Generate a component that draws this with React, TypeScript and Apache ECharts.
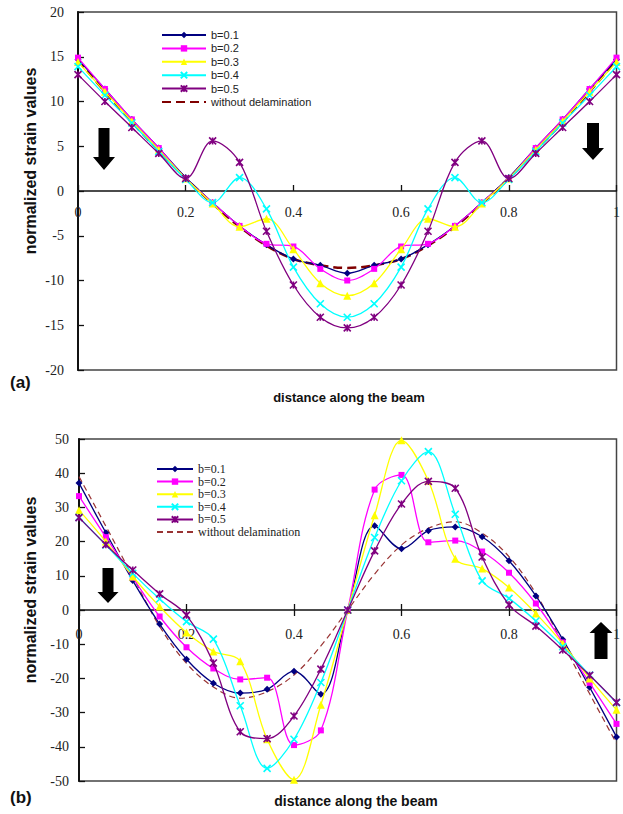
import React, { useEffect, useRef } from "react";
import * as echarts from "echarts";

const xs = [0, 0.05, 0.1, 0.15, 0.2, 0.25, 0.3, 0.35, 0.4, 0.45, 0.5, 0.55, 0.6, 0.65, 0.7, 0.75, 0.8, 0.85, 0.9, 0.95, 1];
const seriesNames = ["b=0.1", "b=0.2", "b=0.3", "b=0.4", "b=0.5", "without delamination"];

// chart (a)
const topB1 = [14.7, 11.4, 8.0, 4.8, 1.5, -1.3, -3.9, -6.0, -7.6, -8.3, -9.2, -8.3, -7.6, -6.0, -3.9, -1.3, 1.5, 4.8, 8.0, 11.4, 14.7];
const topB2 = [14.9, 11.4, 8.0, 4.8, 1.4, -1.3, -3.9, -5.9, -6.2, -8.7, -10.0, -8.7, -6.2, -5.9, -3.9, -1.3, 1.4, 4.8, 8.0, 11.4, 14.9];
const topB3 = [14.4, 11.1, 7.8, 4.6, 1.4, -1.4, -4.0, -3.1, -6.5, -10.3, -11.7, -10.3, -6.5, -3.1, -4.0, -1.4, 1.4, 4.6, 7.8, 11.1, 14.4];
const topB4 = [13.9, 10.7, 7.6, 4.4, 1.3, -1.3, 1.5, -2.0, -8.5, -12.6, -14.1, -12.6, -8.5, -2.0, 1.5, -1.3, 1.3, 4.4, 7.6, 10.7, 13.9];
const topB5 = [13.0, 10.0, 7.1, 4.2, 1.4, 5.6, 3.2, -4.5, -10.5, -14.1, -15.3, -14.1, -10.5, -4.5, 3.2, 5.6, 1.4, 4.2, 7.1, 10.0, 13.0];
const topNoDelam = [14.6, 11.1, 7.7, 4.5, 1.4, -1.4, -4.0, -6.1, -7.6, -8.3, -8.6, -8.3, -7.6, -6.1, -4.0, -1.4, 1.4, 4.5, 7.7, 11.1, 14.6];

// chart (b)
const botB1 = [37.1, 22.6, 8.6, -4.1, -14.4, -21.4, -24.3, -23.2, -17.9, -24.6, 0, 24.6, 17.9, 23.2, 24.3, 21.4, 14.4, 4.1, -8.6, -22.6, -37.1];
const botB2 = [33.3, 21.3, 9.5, -1.9, -10.9, -17.1, -20.3, -19.8, -39.5, -35.2, 0, 35.2, 39.5, 19.8, 20.3, 17.1, 10.9, 1.9, -9.5, -21.3, -33.3];
const botB3 = [29.2, 20.0, 9.8, 1.0, -6.6, -12.1, -15.0, -37.8, -49.6, -27.7, 0, 27.7, 49.6, 37.8, 15.0, 12.1, 6.6, -1.0, -9.8, -20.0, -29.2];
const botB4 = [27.1, 19.0, 10.7, 3.2, -3.4, -8.5, -28.0, -46.3, -37.8, -21.2, 0, 21.2, 37.8, 46.3, 28.0, 8.5, 3.4, -3.2, -10.7, -19.0, -27.1];
const botB5 = [27.0, 19.1, 11.7, 4.7, -1.5, -15.5, -35.6, -37.6, -31.0, -17.3, 0, 17.3, 31.0, 37.6, 35.6, 15.5, 1.5, -4.7, -11.7, -19.1, -27.0];
const botNoDelam = [39.0, 24.5, 9.8, -4.8, -15.6, -22.5, -25.8, -23.9, -19.0, -10.5, 0, 10.5, 19.0, 23.9, 25.8, 22.5, 15.6, 4.8, -9.8, -24.5, -39.0];

const colors = ["#000080", "#FF00FF", "#FFFF00", "#00FFFF", "#800080"];
const X_SYM = "path://M0,0L10,10M10,0L0,10";
const AST_SYM = "path://M0,0L10,10M10,0L0,10M5,0L5,10";
const symbols = ["diamond", "rect", "triangle", X_SYM, AST_SYM];
const symSizes = [7, 6, 8, 7, 7];

const pairs = (vals: number[]) => xs.map((x, i) => [x, vals[i]]);

function makeSeries(valsList: number[][], noDelam: number[], idx: number, suffix: string, dashStyle: any) {
  const out: any[] = valsList.map((vals, k) => {
    const stroke = k >= 3;
    return {
      name: seriesNames[k] + suffix,
      type: "line",
      xAxisIndex: idx,
      yAxisIndex: idx,
      data: pairs(vals),
      smooth: 0.35,
      symbol: symbols[k],
      symbolSize: symSizes[k],
      showAllSymbol: true,
      lineStyle: { color: colors[k], width: 1.3 },
      itemStyle: stroke
        ? { color: colors[k], borderColor: colors[k], borderWidth: 1.6 }
        : { color: colors[k] },
      z: 3 + k,
    };
  });
  out.push({
    name: seriesNames[5] + suffix,
    type: "line",
    xAxisIndex: idx,
    yAxisIndex: idx,
    data: pairs(noDelam),
    smooth: 0.35,
    symbol: "none",
    lineStyle: dashStyle,
    itemStyle: { color: dashStyle.color },
    z: 2,
  });
  return out;
}

const labelFont = { fontFamily: "Liberation Serif", fontSize: 14, color: "#222" };

export default function App() {
  const ref = useRef<HTMLDivElement>(null);
  useEffect(() => {
    if (!ref.current) return;
    const chart = echarts.init(ref.current, null, { renderer: "svg" });
    const gridDefs = [
      { left: 78, top: 12, width: 540, height: 358 },
      { left: 79, top: 439, width: 540, height: 342 },
    ];
    const grids = gridDefs.map((g) => ({ ...g, show: true, borderColor: "#444", borderWidth: 1.5, containLabel: false }));

    const xAxis: any[] = [0, 1].map((i) => ({
      type: "value",
      gridIndex: i,
      min: 0,
      max: 1,
      interval: 0.2,
      position: "bottom",
      offset: -gridDefs[i].height / 2,
      axisLine: { onZero: false, lineStyle: { color: "#111", width: 1.5 } },
      axisTick: { inside: true, length: 6, lineStyle: { color: "#111", width: 1.3 } },
      axisLabel: { ...labelFont, margin: i === 0 ? 14 : 17 },
      splitLine: { show: false },
    }));
    // cross ticks for chart (b): extra axis with outward ticks
    xAxis.push({
      type: "value",
      gridIndex: 1,
      min: 0,
      max: 1,
      interval: 0.2,
      position: "bottom",
      offset: -gridDefs[1].height / 2,
      axisLine: { show: false, onZero: false },
      axisTick: { show: true, inside: false, length: 6, lineStyle: { color: "#111", width: 1.3 } },
      axisLabel: { show: false },
      splitLine: { show: false },
    });
    const yAxis = [
      { min: -20, max: 20, interval: 5, margin: 14 },
      { min: -50, max: 50, interval: 10, margin: 10 },
    ].map((a, i) => ({
      type: "value",
      gridIndex: i,
      min: a.min,
      max: a.max,
      interval: a.interval,
      axisLine: { show: true, onZero: false, lineStyle: { color: "#111", width: 2 } },
      axisTick: { show: true, inside: true, length: 6, lineStyle: { color: "#111", width: 1.3 } },
      axisLabel: { ...labelFont, margin: a.margin },
      splitLine: { show: false },
    }));

    const series = [
      ...makeSeries([topB1, topB2, topB3, topB4, topB5], topNoDelam, 0, "", {
        color: "#800000",
        width: 2.5,
        type: [9, 5],
      }),
      ...makeSeries([botB1, botB2, botB3, botB4, botB5], botNoDelam, 1, " (b)", {
        color: "#993333",
        width: 1.2,
        type: [6, 4],
      }),
    ];

    const legendData = (suffix: string) =>
      seriesNames.map((n, k) => (k === 5 ? { name: n + suffix, itemStyle: { opacity: 0 } } : { name: n + suffix }));

    const legends = [
      {
        data: legendData(""),
        left: 161,
        top: 29,
        orient: "vertical",
        padding: 0,
        itemWidth: 44,
        itemHeight: 8,
        itemGap: 1.4,
        textStyle: { fontFamily: "Liberation Sans", fontSize: 11, color: "#222", lineHeight: 12 },
        selectedMode: false,
      },
      {
        data: legendData(" (b)"),
        left: 156,
        top: 463,
        orient: "vertical",
        padding: 0,
        itemWidth: 36,
        itemHeight: 8,
        itemGap: 0.6,
        formatter: (n: string) => n.replace(" (b)", ""),
        textStyle: { fontFamily: "Liberation Serif", fontSize: 12, color: "#222", lineHeight: 11 },
        selectedMode: false,
      },
    ];

    const titleFont = { fontFamily: "Liberation Sans", fontWeight: "bold", fill: "#111" };
    const arrow = (cx: number, yStart: number, yHeadBase: number, yTip: number, shaftW: number, headW: number) => ({
      type: "polygon",
      shape: {
        points: [
          [cx - shaftW / 2, yStart],
          [cx + shaftW / 2, yStart],
          [cx + shaftW / 2, yHeadBase],
          [cx + headW / 2, yHeadBase],
          [cx, yTip],
          [cx - headW / 2, yHeadBase],
          [cx - shaftW / 2, yHeadBase],
        ],
      },
      style: { fill: "#000" },
    });

    const graphic = [
      { type: "text", x: 30, y: 161, rotation: Math.PI / 2, style: { ...titleFont, text: "normalized strain values", fontSize: 16, align: "center", verticalAlign: "middle" } },
      { type: "text", x: 30, y: 590, rotation: Math.PI / 2, style: { ...titleFont, text: "normalized strain values", fontSize: 16, align: "center", verticalAlign: "middle" } },
      { type: "text", x: 349, y: 397, style: { ...titleFont, text: "distance along the beam", fontSize: 13, align: "center", verticalAlign: "middle" } },
      { type: "text", x: 356, y: 801, style: { ...titleFont, text: "distance along the beam", fontSize: 14, align: "center", verticalAlign: "middle" } },
      { type: "text", x: 10, y: 382, style: { ...titleFont, text: "(a)", fontSize: 17, align: "left", verticalAlign: "middle" } },
      { type: "text", x: 10, y: 797, style: { ...titleFont, text: "(b)", fontSize: 17, align: "left", verticalAlign: "middle" } },
      arrow(104, 128, 157, 170, 11, 22),
      arrow(593, 123, 148, 160, 12, 22),
      arrow(108, 568, 592, 603, 11, 21),
      arrow(601, 659, 633, 622, 13, 23),
    ];

    chart.setOption({
      animation: false,
      backgroundColor: "#fff",
      grid: grids,
      xAxis,
      yAxis,
      legend: legends,
      series,
      graphic,
    });
    return () => chart.dispose();
  }, []);
  return <div ref={ref} style={{ position: "absolute", left: 0, top: 0, width: 623, height: 814 }} />;
}
